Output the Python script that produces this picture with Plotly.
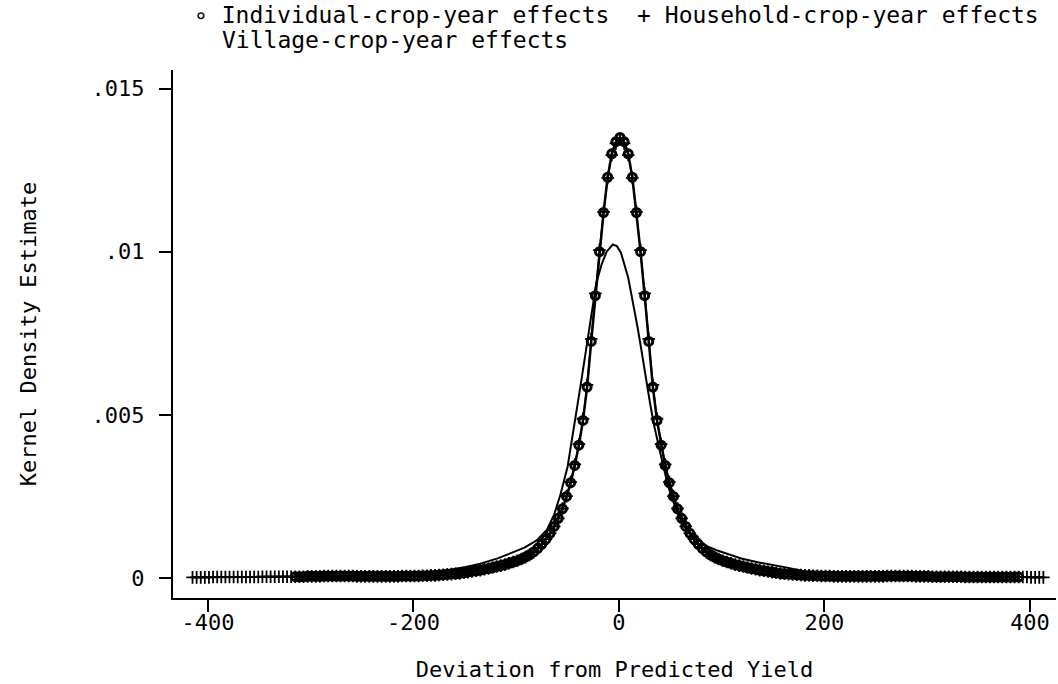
import plotly.graph_objects as go

# ---------------- data ----------------
X_HH = [
    -415, -411, -407, -403, -399, -395, -391, -387, -383, -379,
    -375, -371, -367, -363, -359, -355, -351, -347, -343, -339,
    -335, -331, -327, -323, -319, -315, -311, -307, -303, -299,
    -295, -291, -287, -283, -279, -275, -271, -267, -263, -259,
    -255, -251, -247, -243, -239, -235, -231, -227, -223, -219,
    -215, -211, -207, -203, -199, -195, -191, -187, -183, -179,
    -175, -171, -167, -163, -159, -155, -151, -147, -143, -139,
    -135, -131, -127, -123, -119, -115, -111, -107, -103, -99,
    -95, -91, -87, -83, -79, -75, -71, -67, -63, -59,
    -55, -51, -47, -43, -39, -35, -31, -27, -23, -19,
    -15, -11, -7, -3, 1, 5, 9, 13, 17, 21,
    25, 29, 33, 37, 41, 45, 49, 53, 57, 61,
    65, 69, 73, 77, 81, 85, 89, 93, 97, 101,
    105, 109, 113, 117, 121, 125, 129, 133, 137, 141,
    145, 149, 153, 157, 161, 165, 169, 173, 177, 181,
    185, 189, 193, 197, 201, 205, 209, 213, 217, 221,
    225, 229, 233, 237, 241, 245, 249, 253, 257, 261,
    265, 269, 273, 277, 281, 285, 289, 293, 297, 301,
    305, 309, 313, 317, 321, 325, 329, 333, 337, 341,
    345, 349, 353, 357, 361, 365, 369, 373, 377, 381,
    385, 389, 393, 397, 401, 405, 409, 413,
]

Y_HH = [
    0.00002, 0.00002, 0.00002, 0.00002, 0.00002, 0.00003, 0.00003, 0.00003, 0.00003, 0.00003,
    0.00003, 0.00003, 0.00003, 0.00003, 0.00003, 0.00003, 0.00003, 0.00004, 0.00004, 0.00004,
    0.00004, 0.00004, 0.00004, 0.00004, 0.00004,
    0.00004, 0.00004, 0.00004, 0.00005, 0.00005, 0.00005, 0.00005, 0.00006, 0.00006, 0.00006,
    0.00006, 0.00006, 0.00006, 0.00006, 0.00006, 0.00005, 0.00005, 0.00005, 0.00005, 0.00005,
    0.00005, 0.00005, 0.00005, 0.00005, 0.00005, 0.00005, 0.00006, 0.00006, 0.00006,
    0.00006, 0.00006, 0.00007, 0.00007, 0.00008, 0.00008, 0.00009, 0.00010, 0.00011, 0.00012,
    0.00013, 0.00014, 0.00016, 0.00018, 0.00020, 0.00022, 0.00024, 0.00027, 0.00029, 0.00032,
    0.00035, 0.00038, 0.00041, 0.00045, 0.00049, 0.00053, 0.00058, 0.00064, 0.00071, 0.00080,
    0.00091, 0.00104, 0.00119, 0.00137, 0.00158, 0.00183, 0.00213, 0.00251, 0.00294, 0.00348,
    0.00410, 0.00488, 0.00592, 0.00733, 0.00872, 0.01005, 0.01122, 0.01226, 0.01296, 0.01332,
    0.01345,
    0.01332, 0.01296, 0.01226, 0.01122, 0.01005, 0.00872, 0.00733, 0.00592, 0.00488, 0.00410,
    0.00348, 0.00294, 0.00251, 0.00213, 0.00183, 0.00158, 0.00137, 0.00119, 0.00104, 0.00091,
    0.00080, 0.00071, 0.00064, 0.00058, 0.00053, 0.00049, 0.00045, 0.00041, 0.00038, 0.00035,
    0.00032, 0.00029, 0.00027, 0.00024, 0.00022, 0.00020, 0.00018, 0.00016, 0.00014, 0.00013,
    0.00012, 0.00011, 0.00010, 0.00009, 0.00008, 0.00008, 0.00007, 0.00007, 0.00006, 0.00006,
    0.00006, 0.00005, 0.00005, 0.00005, 0.00005, 0.00005, 0.00005, 0.00005, 0.00005, 0.00005,
    0.00005, 0.00005, 0.00005, 0.00005, 0.00006, 0.00006, 0.00006, 0.00006, 0.00006, 0.00006,
    0.00006, 0.00005, 0.00005, 0.00005, 0.00005, 0.00004, 0.00004, 0.00004, 0.00004, 0.00004,
    0.00004, 0.00004, 0.00004, 0.00003, 0.00003, 0.00003, 0.00003, 0.00003, 0.00003, 0.00003,
    0.00003, 0.00003, 0.00003, 0.00003, 0.00003, 0.00003, 0.00003,
    0.00003, 0.00003, 0.00002, 0.00002, 0.00002, 0.00002,
]

X_IND = [
    -315, -311, -307, -303, -299, -295, -291, -287, -283, -279,
    -275, -271, -267, -263, -259, -255, -251, -247, -243, -239,
    -235, -231, -227, -223, -219, -215, -211, -207, -203, -199,
    -195, -191, -187, -183, -179, -175, -171, -167, -163, -159,
    -155, -151, -147, -143, -139, -135, -131, -127, -123, -119,
    -115, -111, -107, -103, -99, -95, -91, -87, -83, -79,
    -75, -71, -67, -63, -59, -55, -51, -47, -43, -39,
    -35, -31, -27, -23, -19, -15, -11, -7, -3, 1,
    5, 9, 13, 17, 21, 25, 29, 33, 37, 41,
    45, 49, 53, 57, 61, 65, 69, 73, 77, 81,
    85, 89, 93, 97, 101, 105, 109, 113, 117, 121,
    125, 129, 133, 137, 141, 145, 149, 153, 157, 161,
    165, 169, 173, 177, 181, 185, 189, 193, 197, 201,
    205, 209, 213, 217, 221, 225, 229, 233, 237, 241,
    245, 249, 253, 257, 261, 265, 269, 273, 277, 281,
    285, 289, 293, 297, 301, 305, 309, 313, 317, 321,
    325, 329, 333, 337, 341, 345, 349, 353, 357, 361,
    365, 369, 373, 377, 381, 385, 389,
]

Y_IND = [
    0.00004, 0.00004, 0.00004, 0.00005, 0.00005, 0.00005, 0.00005, 0.00006, 0.00006, 0.00006,
    0.00006, 0.00006, 0.00006, 0.00006, 0.00006, 0.00005, 0.00005, 0.00005, 0.00005, 0.00005,
    0.00005, 0.00005, 0.00005, 0.00005, 0.00005, 0.00005, 0.00006, 0.00006, 0.00006,
    0.00006, 0.00006, 0.00007, 0.00007, 0.00008, 0.00008, 0.00009, 0.00010, 0.00011, 0.00012,
    0.00013, 0.00014, 0.00016, 0.00018, 0.00020, 0.00022, 0.00024, 0.00027, 0.00029, 0.00032,
    0.00035, 0.00038, 0.00041, 0.00045, 0.00049, 0.00053, 0.00058, 0.00064, 0.00071, 0.00080,
    0.00091, 0.00104, 0.00119, 0.00137, 0.00158, 0.00183, 0.00212, 0.00250, 0.00292, 0.00345,
    0.00407, 0.00483, 0.00585, 0.00725, 0.00865, 0.01000, 0.01120, 0.01228, 0.01300, 0.01337,
    0.01350,
    0.01337, 0.01300, 0.01228, 0.01120, 0.01000, 0.00865, 0.00725, 0.00585, 0.00483, 0.00407,
    0.00345, 0.00292, 0.00250, 0.00212, 0.00183, 0.00158, 0.00137, 0.00119, 0.00104, 0.00091,
    0.00080, 0.00071, 0.00064, 0.00058, 0.00053, 0.00049, 0.00045, 0.00041, 0.00038, 0.00035,
    0.00032, 0.00029, 0.00027, 0.00024, 0.00022, 0.00020, 0.00018, 0.00016, 0.00014, 0.00013,
    0.00012, 0.00011, 0.00010, 0.00009, 0.00008, 0.00008, 0.00007, 0.00007, 0.00006, 0.00006,
    0.00006, 0.00005, 0.00005, 0.00005, 0.00005, 0.00005, 0.00005, 0.00005, 0.00005, 0.00005,
    0.00005, 0.00005, 0.00005, 0.00005, 0.00006, 0.00006, 0.00006, 0.00006, 0.00006, 0.00006,
    0.00006, 0.00005, 0.00005, 0.00005, 0.00005, 0.00004, 0.00004, 0.00004, 0.00004, 0.00004,
    0.00004, 0.00004, 0.00004, 0.00003, 0.00003, 0.00003, 0.00003, 0.00003, 0.00003, 0.00003,
    0.00003, 0.00003, 0.00003, 0.00003, 0.00003, 0.00003, 0.00003,
]

X_VIL = [
    -415, -390, -360, -320, -280, -250, -225, -205, -185, -165,
    -150, -135, -118, -105, -92, -80, -70, -63, -57, -50,
    -44, -37, -32, -27, -22, -17, -12, -6, -2, 2,
    6, 9, 12, 15, 18, 22, 26, 30, 34, 38,
    43, 48, 55, 63, 70, 78, 86, 95, 105, 119,
    135, 151, 165, 175, 185, 200, 230, 270, 310, 350,
    390, 413,
]
Y_VIL = [
    0.00002, 0.00003, 0.00004, 0.00005, 0.00005, 0.00005, 0.00007, 0.00011, 0.00018, 0.00025,
    0.00033, 0.00044, 0.00060, 0.00076, 0.00093, 0.00115, 0.00148, 0.00195, 0.00255, 0.00341,
    0.00455, 0.00597, 0.00700, 0.00810, 0.00905, 0.00960, 0.01000, 0.01022, 0.01017, 0.00996,
    0.00955, 0.00920, 0.00870, 0.00825, 0.00770, 0.00695, 0.00615, 0.00540, 0.00470, 0.00410,
    0.00345, 0.00280, 0.00215, 0.00160, 0.00135, 0.00115, 0.00097, 0.00085, 0.00074, 0.00060,
    0.00048, 0.00040, 0.00031, 0.00024, 0.00013, 0.00007, 0.00005, 0.00005, 0.00005, 0.00004,
    0.00003, 0.00002,
]

X_TICKS = [-400, -200, 0, 200, 400]
X_TICKTEXT = ["-400", "-200", "0", "200", "400"]
Y_TICKS = [0, 0.005, 0.01, 0.015]
Y_TICKTEXT = ["0", ".005", ".01", ".015"]

SERIES_NAMES = ["Individual-crop-year effects", "Household-crop-year effects",
                "Village-crop-year effects"]

# ---------------- figure ----------------
FONT = "DejaVu Sans Mono"
fig = go.Figure()

fig.add_trace(go.Scatter(
    x=X_VIL, y=Y_VIL, mode="lines", name=SERIES_NAMES[2],
    line=dict(color="black", width=2), showlegend=False))

fig.add_trace(go.Scatter(
    x=X_HH, y=Y_HH, mode="lines+markers", name=SERIES_NAMES[1],
    line=dict(color="black", width=1.5),
    marker=dict(symbol="cross-thin-open", size=9, color="black",
                line=dict(color="black", width=1.8)),
    showlegend=False))

fig.add_trace(go.Scatter(
    x=X_IND, y=Y_IND, mode="lines+markers", name=SERIES_NAMES[0],
    line=dict(color="black", width=2.5),
    marker=dict(symbol="circle-open", size=8, color="black",
                line=dict(color="black", width=3)),
    showlegend=False))

W, H = 1058, 684
ML, MR, MT, MB = 173, 2, 70, 86
pw, ph = W - ML - MR, H - MT - MB


def px_x(px):
    return (px - ML) / pw


def px_y(py):
    return (H - MB - py) / ph


fig.add_annotation(
    text="\u2218 " + SERIES_NAMES[0] + "  + " + SERIES_NAMES[1],
    xref="paper", yref="paper", x=px_x(192), y=px_y(15),
    xanchor="left", yanchor="middle", showarrow=False,
    font=dict(family=FONT, size=23, color="black"))
fig.add_annotation(
    text=SERIES_NAMES[2],
    xref="paper", yref="paper", x=px_x(220), y=px_y(40),
    xanchor="left", yanchor="middle", showarrow=False,
    font=dict(family=FONT, size=23, color="black"))

axis_common = dict(
    showline=True, linecolor="black", linewidth=2,
    ticks="outside", ticklen=12, tickwidth=2, tickcolor="black",
    showgrid=False, zeroline=False, automargin=False,
    tickfont=dict(family=FONT, size=22, color="black"),
)

fig.update_xaxes(
    range=[-434, 425.3], tickmode="array", tickvals=X_TICKS, ticktext=X_TICKTEXT,
    ticklabelstandoff=-8,
    title=dict(text="Deviation from Predicted Yield", standoff=27,
               font=dict(family=FONT, size=22, color="black")),
    **axis_common)
fig.update_yaxes(
    range=[-0.000613, 0.015567], tickmode="array", tickvals=Y_TICKS, ticktext=Y_TICKTEXT,
    ticklabelstandoff=10,
    title=dict(text="Kernel Density Estimate", standoff=49,
               font=dict(family=FONT, size=22, color="black")),
    **axis_common)

fig.update_layout(
    width=W, height=H,
    margin=dict(l=ML, r=MR, t=MT, b=MB, pad=0),
    paper_bgcolor="white", plot_bgcolor="white",
    font=dict(family=FONT, size=22, color="black"),
    showlegend=False,
)

fig.write_html("out.html", include_plotlyjs=True,
               config={"displayModeBar": False},
               post_script="document.body.style.margin='0';document.body.style.overflow='hidden';")
